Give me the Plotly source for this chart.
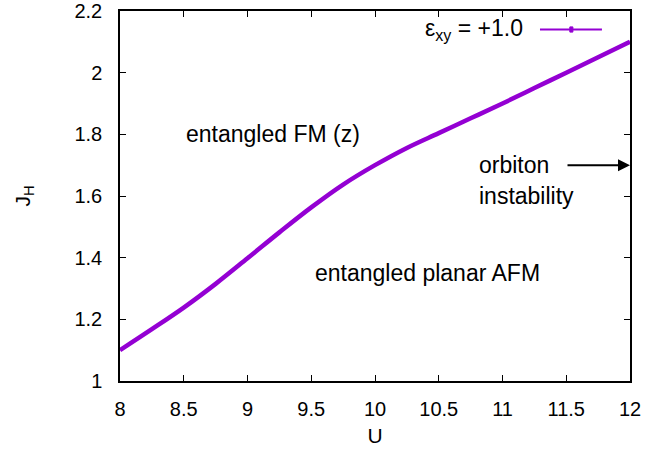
import plotly.graph_objects as go

U = [8.0, 8.25, 8.5, 8.75, 9.0, 9.25, 9.5, 9.75, 10.0, 10.25, 10.5, 10.75, 11.0, 11.25, 11.5, 11.75, 12.0]
JH = [1.100, 1.168, 1.238, 1.315, 1.398, 1.482, 1.563, 1.637, 1.700, 1.756, 1.804, 1.852, 1.900, 1.950, 2.000, 2.050, 2.100]
x_ticks = [8, 8.5, 9, 9.5, 10, 10.5, 11, 11.5, 12]
x_tick_labels = ["8", "8.5", "9", "9.5", "10", "10.5", "11", "11.5", "12"]
y_ticks = [1, 1.2, 1.4, 1.6, 1.8, 2, 2.2]
y_tick_labels = ["1", "1.2", "1.4", "1.6", "1.8", "2", "2.2"]

COLOR = "#9400D3"
FONT = "Liberation Sans, Arial, sans-serif"

fig = go.Figure()
fig.add_trace(go.Scatter(x=U, y=JH, mode="lines",
                         line=dict(color=COLOR, width=4.5, shape="spline", smoothing=1.0),
                         showlegend=False, hoverinfo="skip"))

axis_common = dict(showline=True, linecolor="black", linewidth=1.5, mirror="ticks",
                   ticks="inside", ticklen=6, tickcolor="black", tickwidth=1,
                   showgrid=False, zeroline=False, ticklabeloverflow="allow",
                   tickfont=dict(family=FONT, size=20, color="black"))

fig.update_xaxes(range=[8, 12], tickvals=x_ticks, ticktext=x_tick_labels,
                 title=dict(text="U", font=dict(family=FONT, size=21, color="black"), standoff=10),
                 ticklabelstandoff=9, automargin=False, **axis_common)
fig.update_yaxes(range=[1, 2.2], tickvals=y_ticks, ticktext=y_tick_labels,
                 title=dict(text="J<sub>H</sub>", font=dict(family=FONT, size=21, color="black"), standoff=38),
                 ticklabelstandoff=12, automargin=False, **axis_common)

ann_font = dict(family=FONT, size=23, color="black")
fig.add_annotation(x=9.2, y=1.8, text="entangled FM (z)", showarrow=False, font=ann_font)
fig.add_annotation(x=10.415, y=1.35, text="entangled planar AFM", showarrow=False, font=ann_font)
fig.add_annotation(x=10.8, y=1.70, text="orbiton", showarrow=False, xanchor="left", font=ann_font)
fig.add_annotation(x=10.8, y=1.60, text="instability", showarrow=False, xanchor="left", font=ann_font)
fig.add_annotation(x=12, y=1.70, ax=-64, ay=0, text="", showarrow=True,
                   arrowhead=2, arrowsize=1.2, arrowwidth=2, arrowcolor="black")

# legend (text left, sample right, gnuplot style)
fig.add_annotation(xref="paper", yref="paper", x=0.795, y=0.950, text="ε<sub>xy</sub> = +1.0",
                   showarrow=False, xanchor="right", yanchor="middle", font=ann_font)
fig.add_shape(type="line", xref="paper", yref="paper", x0=0.8235, x1=0.945, y0=0.950, y1=0.950,
              line=dict(color=COLOR, width=2))
fig.add_shape(type="rect", xref="paper", yref="paper", x0=0.882, x1=0.888, y0=0.943, y1=0.957,
              line=dict(color=COLOR, width=1), fillcolor=COLOR)

fig.update_layout(width=647, height=450, margin=dict(l=120, r=17, t=11, b=69),
                  plot_bgcolor="white", paper_bgcolor="white", showlegend=False)

fig.write_html("out.html")
